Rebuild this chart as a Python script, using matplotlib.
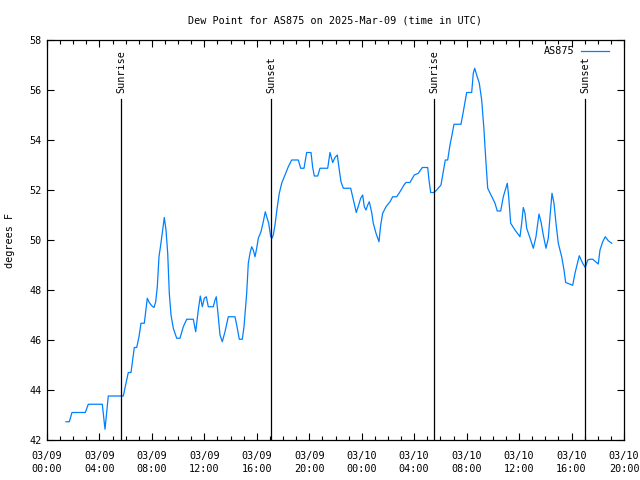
import matplotlib
matplotlib.use("Agg")
import matplotlib.pyplot as plt
import numpy as np

# hours since 2025-03-09 00:00 UTC
hours = [1.449, 1.700, 1.906, 2.921, 3.149, 4.217, 4.423, 4.674, 5.818, 6.077,
         6.199, 6.405, 6.535, 6.657, 6.840, 7.015, 7.168, 7.420, 7.526, 7.648,
         7.801, 7.984, 8.159, 8.289, 8.411, 8.540, 8.670, 8.823, 8.945, 9.074,
         9.204, 9.326, 9.456, 9.631, 9.890, 10.142, 10.393, 10.653, 11.156, 11.339,
         11.537, 11.690, 11.842, 11.995, 12.147, 12.300, 12.681, 12.811, 12.910, 13.062,
         13.192, 13.367, 13.573, 13.825, 14.336, 14.466, 14.664, 14.893, 15.022, 15.228,
         15.350, 15.480, 15.609, 15.731, 15.861, 15.991, 16.112, 16.318, 16.494, 16.646,
         16.753, 16.906, 17.058, 17.157, 17.257, 17.386, 17.562, 17.714, 17.897, 18.149,
         18.400, 18.660, 19.163, 19.346, 19.597, 19.803, 20.131, 20.261, 20.383, 20.642,
         20.818, 21.405, 21.580, 21.786, 21.961, 22.137, 22.289, 22.419, 22.594, 23.159,
         23.311, 23.433, 23.585, 23.768, 23.921, 24.073, 24.195, 24.325, 24.455, 24.577,
         24.760, 24.882, 25.088, 25.316, 25.446, 25.598, 25.850, 26.155, 26.361, 26.666,
         26.918, 27.223, 27.375, 27.680, 28.008, 28.313, 28.618, 29.030, 29.129, 29.259,
         29.510, 29.716, 30.044, 30.174, 30.372, 30.555, 30.730, 30.883, 31.035, 31.569,
         31.745, 32.004, 32.385, 32.507, 32.614, 32.766, 32.965, 33.148, 33.323, 33.453,
         33.606, 33.857, 34.162, 34.338, 34.597, 34.795, 35.100, 35.207, 35.359, 35.687,
         36.068, 36.198, 36.320, 36.450, 36.579, 36.884, 37.082, 37.288, 37.517, 37.670,
         37.845, 38.051, 38.226, 38.356, 38.509, 38.661, 38.814, 38.989, 39.248, 39.424,
         39.553, 39.881, 40.087, 40.262, 40.590, 40.849, 41.048, 41.231, 41.406, 41.612,
         42.039, 42.169, 42.375, 42.574, 42.802, 43.061]

dewpoint = [42.73, 42.73, 43.10, 43.10, 43.43, 43.43, 42.43, 43.76, 43.76, 44.40,
            44.70, 44.70, 45.20, 45.70, 45.70, 46.13, 46.67, 46.67, 47.13, 47.67,
            47.50, 47.37, 47.30, 47.53, 48.13, 49.33, 49.80, 50.40, 50.90, 50.40,
            49.47, 47.87, 47.00, 46.47, 46.07, 46.07, 46.53, 46.83, 46.83, 46.33,
            47.20, 47.76, 47.33, 47.67, 47.73, 47.33, 47.33, 47.60, 47.73, 46.93,
            46.20, 45.93, 46.33, 46.93, 46.93, 46.60, 46.03, 46.03, 46.53, 47.87,
            49.07, 49.47, 49.73, 49.60, 49.33, 49.67, 50.07, 50.33, 50.73, 51.13,
            50.93, 50.67, 50.13, 50.07, 50.20, 50.60, 51.33, 51.87, 52.27, 52.60,
            52.93, 53.20, 53.20, 52.87, 52.87, 53.50, 53.50, 52.90, 52.56, 52.56,
            52.87, 52.87, 53.50, 53.10, 53.30, 53.40, 52.80, 52.33, 52.07, 52.07,
            51.73, 51.47, 51.10, 51.40, 51.67, 51.80, 51.33, 51.20, 51.40, 51.53,
            51.10, 50.67, 50.27, 49.93, 50.60, 51.07, 51.33, 51.53, 51.73, 51.73,
            51.93, 52.20, 52.30, 52.30, 52.60, 52.67, 52.90, 52.90, 52.40, 51.90,
            51.90, 52.00, 52.20, 52.60, 53.20, 53.20, 53.80, 54.20, 54.63, 54.63,
            55.13, 55.90, 55.90, 56.67, 56.87, 56.60, 56.27, 55.60, 54.40, 53.27,
            52.07, 51.80, 51.47, 51.16, 51.16, 51.73, 52.27, 51.73, 50.67, 50.40,
            50.13, 50.67, 51.30, 51.07, 50.47, 50.00, 49.67, 50.13, 51.04, 50.73,
            50.20, 49.67, 50.07, 50.93, 51.87, 51.47, 50.67, 49.87, 49.33, 48.80,
            48.30, 48.23, 48.19, 48.67, 49.37, 49.07, 48.90, 49.20, 49.23, 49.23,
            49.04, 49.60, 49.93, 50.13, 49.97, 49.87]

sun_hours = [5.643, 17.08, 29.51, 41.03]
sun_labels = ["Sunrise", "Sunset", "Sunrise", "Sunset"]
sun_top = 55.64

xtick_hours = [0, 4, 8, 12, 16, 20, 24, 28, 32, 36, 40, 44]
xtick_labels = ["03/09\n00:00", "03/09\n04:00", "03/09\n08:00", "03/09\n12:00",
                "03/09\n16:00", "03/09\n20:00", "03/10\n00:00", "03/10\n04:00",
                "03/10\n08:00", "03/10\n12:00", "03/10\n16:00", "03/10\n20:00"]
yticks = [42, 44, 46, 48, 50, 52, 54, 56, 58]

plt.rcParams['font.family'] = ['DejaVu Sans Mono']
plt.rcParams['font.size'] = 7

fig = plt.figure(figsize=(6.4, 4.8), dpi=100)
ax = fig.add_axes([47/640, 1-440/480, (624-47)/640, 400/480])

ax.plot(hours, dewpoint, color='#0080FF', lw=0.9, label='AS875')
for h, lab in zip(sun_hours, sun_labels):
    ax.plot([h, h], [42, sun_top], color='black', lw=0.9)
    ax.text(h + 0.05, sun_top + 0.25, lab, rotation=90, ha='center', va='bottom',
            fontsize=7.3)

ax.set_xlim(0, 44)
ax.set_ylim(42, 58)
ax.set_xticks(xtick_hours)
ax.set_xticklabels(xtick_labels, linespacing=1.35)
ax.set_xticks(np.arange(0, 45, 1), minor=True)
ax.set_yticks(yticks)
ax.set_yticklabels([str(v) for v in yticks])
ax.tick_params(axis='both', which='major', direction='in', length=5, width=0.8,
               top=True, right=True, labelsize=7.3, pad=4)
ax.tick_params(axis='x', which='major', pad=8)
ax.tick_params(axis='x', which='minor', direction='in', length=3, width=0.8,
               top=True, bottom=True)
for s in ax.spines.values():
    s.set_linewidth(0.9)

ax.set_title('Dew Point for AS875 on 2025-Mar-09 (time in UTC)', fontsize=7.3, pad=12)
ax.set_ylabel('degrees F', fontsize=7.3, labelpad=10)

leg = ax.legend(loc='upper right', frameon=False, fontsize=7.3, markerfirst=False,
                handlelength=2.8, handletextpad=0.6, borderaxespad=0.2,
                bbox_to_anchor=(0.985, 1.0))

fig.savefig('out.png', dpi=100)
